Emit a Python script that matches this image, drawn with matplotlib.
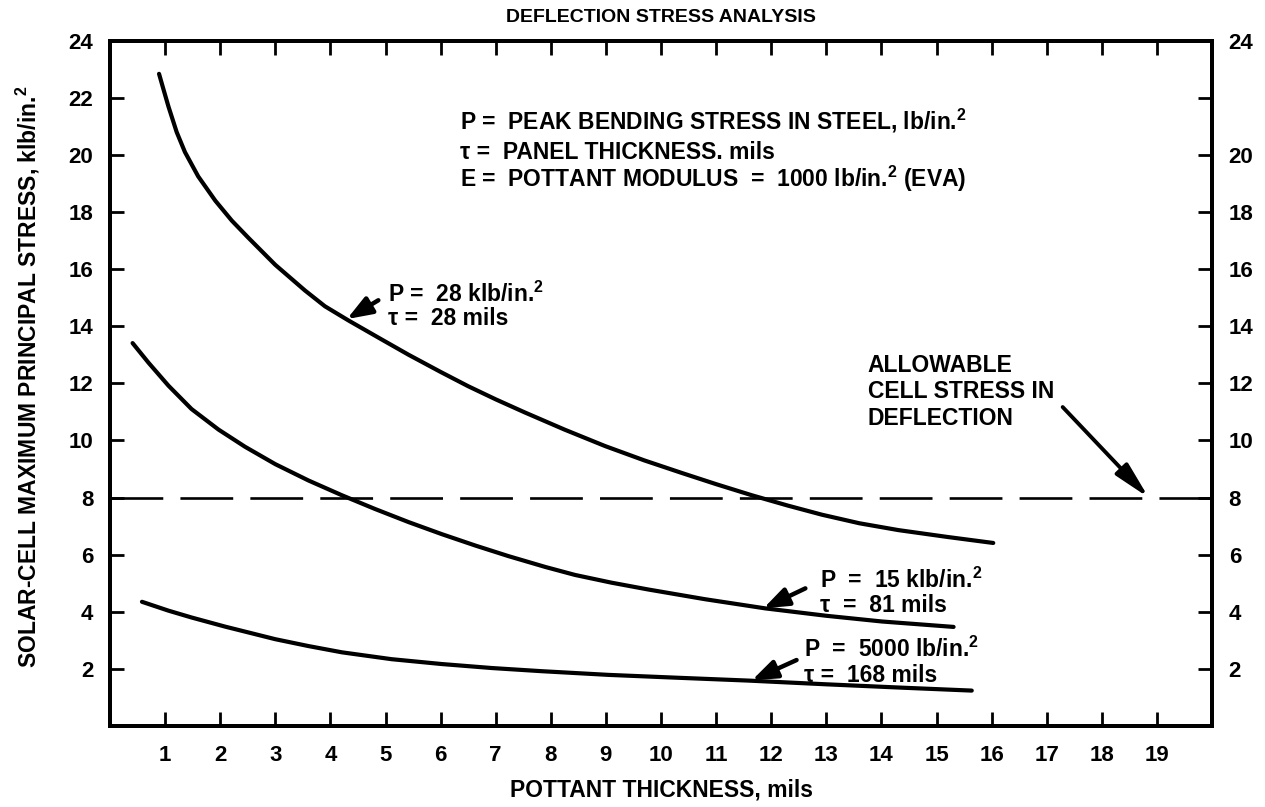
import matplotlib.pyplot as plt

plt.rcParams['font.family'] = ['Liberation Sans', 'DejaVu Sans']
plt.rcParams['font.weight'] = 'bold'
plt.rcParams['mathtext.default'] = 'regular'

# curves (pottant thickness, mils -> stress, klb/in.^2)
x_28 = [0.89, 0.97, 1.06, 1.21, 1.36, 1.60, 1.91, 2.21, 2.51, 3.00, 3.54, 3.90, 4.33, 4.90, 5.42,
        6.00, 6.50, 7.00, 7.53, 8.25, 8.99, 9.70, 10.38, 11.00, 11.65, 12.30, 12.92, 13.60, 14.31,
        15.20, 16.03]
y_28 = [22.84, 22.30, 21.70, 20.80, 20.10, 19.25, 18.40, 17.70, 17.10, 16.15, 15.25, 14.70, 14.20,
        13.57, 13.00, 12.40, 11.90, 11.44, 10.98, 10.38, 9.80, 9.30, 8.86, 8.47, 8.08, 7.72, 7.40,
        7.10, 6.86, 6.62, 6.41]

x_15 = [0.41, 0.70, 1.06, 1.48, 1.97, 2.45, 3.00, 3.60, 4.21, 4.81, 5.42, 6.02, 6.63, 7.23, 7.90,
        8.44, 9.10, 9.77, 10.80, 11.89, 13.00, 14.01, 15.31]
y_15 = [13.41, 12.72, 11.92, 11.10, 10.38, 9.78, 9.17, 8.60, 8.08, 7.60, 7.14, 6.72, 6.32, 5.95,
        5.57, 5.29, 5.02, 4.78, 4.44, 4.12, 3.86, 3.66, 3.47]

x_5 = [0.58, 1.06, 1.48, 2.09, 3.00, 3.60, 4.21, 5.11, 6.02, 6.93, 7.83, 9.05, 10.30, 11.59,
       13.00, 14.40, 15.64]
y_5 = [4.35, 4.04, 3.80, 3.48, 3.04, 2.80, 2.58, 2.34, 2.17, 2.03, 1.92, 1.79, 1.69, 1.59,
       1.46, 1.34, 1.24]

allowable = 8
xticks = list(range(1, 20))
yticks = list(range(2, 25, 2))
right_labels = ['' if t == 22 else str(t) for t in yticks]

fig = plt.figure(figsize=(12.65, 8.07), dpi=100)
ax = fig.add_axes([110 / 1265, 1 - 726 / 807, 1102 / 1265, 685.3 / 807])

lw = 3
for xs, ys in [(x_28, y_28), (x_15, y_15), (x_5, y_5)]:
    ax.plot(xs, ys, color='black', lw=lw, solid_capstyle='round', solid_joinstyle='round')
ax.axhline(allowable, color='black', lw=1.9, linestyle=(0, (20, 6.5)))

ax.set_xlim(0, 20)
ax.set_ylim(0, 24)
ax.set_xticks(xticks)
ax.set_yticks(yticks)
ax.tick_params(axis='x', direction='in', top=True, length=10, width=2, labelsize=16, pad=14)
ax.tick_params(axis='y', direction='in', length=10, width=2, labelsize=16, pad=12)
for s in ax.spines.values():
    s.set_linewidth(2.8)

ax2 = ax.twinx()
ax2.set_ylim(0, 24)
ax2.set_yticks(yticks)
ax2.set_yticklabels(right_labels)
ax2.tick_params(axis='y', direction='in', length=10, width=2, labelsize=16, pad=12)
for s in ax2.spines.values():
    s.set_linewidth(2.8)

# key
fs = 16.5
ax.text(6.35, 20.91, 'P =  PEAK BENDING STRESS IN STEEL, lb/in.$^{2}$', fontsize=fs, va='baseline')
ax.text(6.35, 19.86, 'τ =  PANEL THICKNESS. mils', fontsize=fs, va='baseline')
ax.text(6.35, 18.87, 'E =  POTTANT MODULUS  =  1000 lb/in.$^{2}$ (EVA)', fontsize=fs, va='baseline')

# curve labels
ax.text(5.05, 14.84, 'P =  28 klb/in.$^{2}$', fontsize=fs, va='baseline')
ax.text(5.05, 14.03, 'τ =  28 mils', fontsize=fs, va='baseline')
ax.text(12.89, 4.85, 'P  =  15 klb/in.$^{2}$', fontsize=fs, va='baseline')
ax.text(12.89, 4.00, 'τ  =  81 mils', fontsize=fs, va='baseline')
ax.text(12.60, 2.43, 'P  =  5000 lb/in.$^{2}$', fontsize=fs, va='baseline')
ax.text(12.60, 1.55, 'τ =  168 mils', fontsize=fs, va='baseline')

small = dict(arrowstyle='-|>,head_length=0.75,head_width=0.28', lw=3.2, color='black',
             shrinkA=0, shrinkB=0, mutation_scale=20)
ax.annotate('', xy=(4.30, 14.25), xytext=(4.87, 14.91), arrowprops=small)
ax.annotate('', xy=(11.86, 4.12), xytext=(12.62, 4.82), arrowprops=small)
ax.annotate('', xy=(11.65, 1.60), xytext=(12.46, 2.31), arrowprops=small)

ax.text(13.75, 12.40, 'ALLOWABLE', fontsize=fs, va='baseline')
ax.text(13.75, 11.47, 'CELL STRESS IN', fontsize=fs, va='baseline')
ax.text(13.75, 10.53, 'DEFLECTION', fontsize=fs, va='baseline')
ax.annotate('', xy=(18.85, 8.0), xytext=(17.29, 11.17),
            arrowprops=dict(arrowstyle='-|>,head_length=1.1,head_width=0.25', lw=2.8,
                            color='black', shrinkA=0, shrinkB=0, mutation_scale=20))

fig.text(661 / 1265, 1 - 18 / 807, 'DEFLECTION STRESS ANALYSIS', fontsize=14, ha='center', va='center')
fig.text(661 / 1265, 1 - 790 / 807, 'POTTANT THICKNESS, mils', fontsize=16.5, ha='center', va='center')
fig.text(28 / 1265, 1 - 377 / 807, 'SOLAR-CELL MAXIMUM PRINCIPAL STRESS, klb/in.$^{2}$', fontsize=16.5,
         rotation=90, ha='center', va='center')

fig.savefig('out.png', dpi=100)
